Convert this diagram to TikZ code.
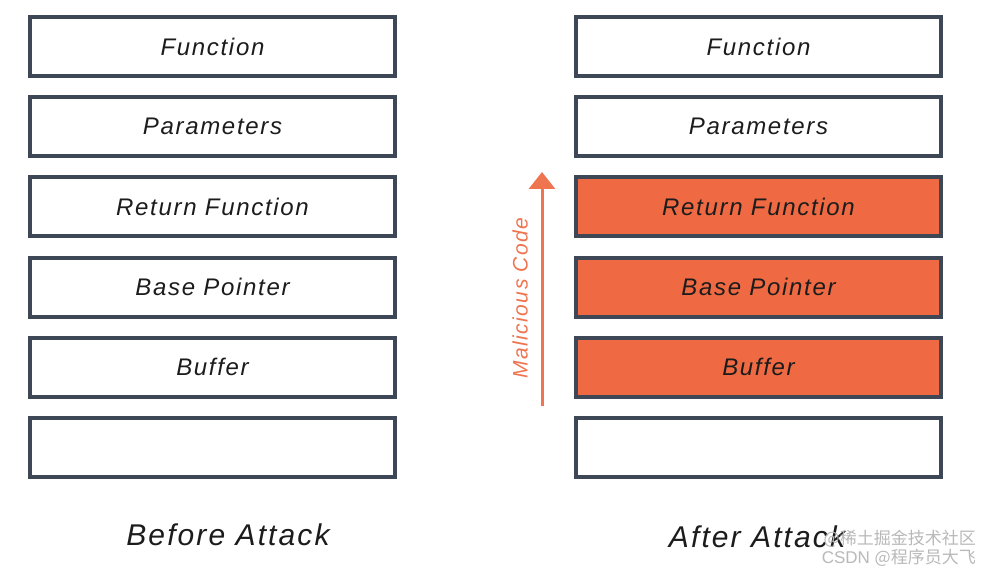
\documentclass[tikz,border=0pt]{standalone}
\usepackage{fontspec}
\setmainfont{Liberation Sans}
\newfontfamily\cjk{Noto Sans CJK SC}
\usetikzlibrary{arrows.meta}
\definecolor{frame}{HTML}{3E4756}
\definecolor{hot}{HTML}{EF6A42}
\definecolor{arrowc}{HTML}{EF7450}
\definecolor{ink}{HTML}{1C1C1C}
\tikzset{
  slot/.style={draw=frame, line width=4pt, fill=white, minimum width=365pt, minimum height=59pt,
    inner sep=0pt, outer sep=0pt, font=\fontsize{24}{28}\selectfont\itshape\addfontfeatures{LetterSpace=7}, text=ink},
  hotslot/.style={slot, fill=hot},
  caption/.style={font=\fontsize{30}{34}\selectfont\itshape\addfontfeatures{LetterSpace=7}, text=ink, inner sep=0pt},
  wmark/.style={font=\fontsize{17}{18}\selectfont, text=gray!55, inner sep=0pt, anchor=east}
}
\begin{document}
\begin{tikzpicture}[x=1pt,y=-1pt]
\useasboundingbox[fill=white] (0,0) rectangle (990,572);
% left stack
\node[slot] (l1) at (212.5,46.5) {Function};
\node[slot] (l2) at (212.5,126.7) {Parameters};
\node[slot] (l3) at (212.5,206.9) {Return Function};
\node[slot] (l4) at (212.5,287.1) {Base Pointer};
\node[slot] (l5) at (212.5,367.3) {Buffer};
\node[slot] (l6) at (212.5,447.5) {};
% right stack
\node[slot] (r1) at (758.5,46.5) {Function};
\node[slot] (r2) at (758.5,126.7) {Parameters};
\node[hotslot] (r3) at (758.5,206.9) {Return Function};
\node[hotslot] (r4) at (758.5,287.1) {Base Pointer};
\node[hotslot] (r5) at (758.5,367.3) {Buffer};
\node[slot] (r6) at (758.5,447.5) {};
% arrow
\coordinate (abot) at (542,406);
\coordinate (atop) at (542,172);
\draw[arrowc, line width=3pt, -{Triangle[width=26pt,length=17pt]}] (abot) -- (atop);
\node[rotate=90, text=arrowc, font=\fontsize{21}{24}\selectfont\itshape\addfontfeatures{LetterSpace=7}, inner sep=0pt] (mal) at (520,298) {Malicious Code};
% captions
\node[caption] (cb) at (228,535) {Before Attack};
\node[caption] (ca) at (757,537) {After Attack};
% watermark
\node[wmark] (w1) at (976,539) {\cjk @稀土掘金技术社区};
\node[wmark] (w2) at (976,558) {CSDN {\cjk @程序员大飞}};
\end{tikzpicture}
\end{document}
